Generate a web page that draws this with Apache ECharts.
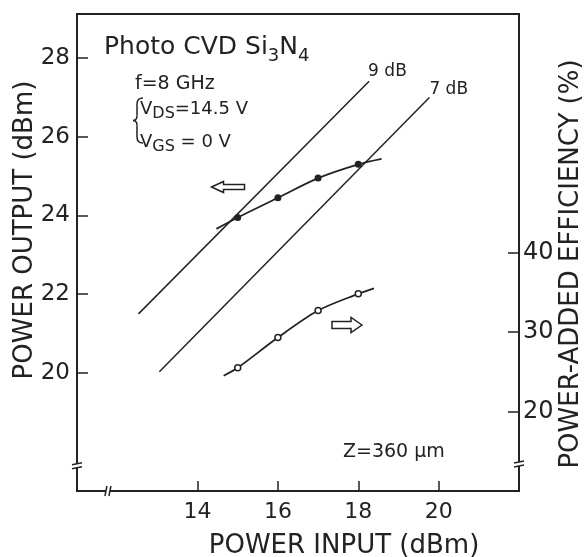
<!DOCTYPE html>
<html>
<head>
<meta charset="utf-8">
<script src="https://cdn.jsdelivr.net/npm/echarts@6/dist/echarts.min.js"></script>
<style>
  html, body { margin: 0; padding: 0; background: #fff; }
  #chart { width: 584px; height: 557px; }
</style>
</head>
<body>
<div id="chart"></div>
<script>
// measured points (power input, dBm)
const inputX = [15, 16, 17, 18]
const outputDbm = [23.95, 24.45, 24.95, 25.3]
const efficiency = [25.5, 29.3, 32.7, 34.8]
// where the hand drawn curves start / stop (no marker)
const outputEnds = [[14.47, 23.66], [18.58, 25.44]]
const effEnds = [[14.65, 24.5], [18.39, 35.5]]
// constant gain lines
const gain9 = [[12.53, 21.5], [18.27, 27.41]]
const gain7 = [[13.05, 20.03], [19.77, 27.0]]
// tick labels
const xTicks = [14, 16, 18, 20]
const yTicks = [20, 22, 24, 26, 28]
const effTicks = [20, 30, 40]

const ink = '#222'
const font = '"DejaVu Sans", "Liberation Sans", sans-serif'

function curve(ends, vals) {
  return [{ value: ends[0], symbol: 'none' }]
    .concat(inputX.map((x, i) => [x, vals[i]]))
    .concat([{ value: ends[1], symbol: 'none' }])
}

const chart = echarts.init(document.getElementById('chart'))
chart.setOption({
  animation: false,
  backgroundColor: '#fff',
  grid: {
    left: 77, right: 65, top: 14, bottom: 66,
    show: true, borderColor: ink, borderWidth: 2
  },
  xAxis: {
    type: 'value', min: 11, max: 22,
    axisLine: { show: false },
    splitLine: { show: false },
    axisTick: { inside: true, length: 10, customValues: xTicks, lineStyle: { color: ink, width: 1.5 } },
    axisLabel: { customValues: xTicks, margin: 10, fontSize: 22, color: ink, fontFamily: font }
  },
  yAxis: [
    {
      type: 'value', min: 17, max: 29.12,
      axisLine: { show: false },
      splitLine: { show: false },
      axisTick: { inside: true, length: 11, customValues: yTicks, lineStyle: { color: ink, width: 1.5 } },
      axisLabel: { customValues: yTicks, margin: 7, fontSize: 23, color: ink, fontFamily: font }
    },
    {
      type: 'value', min: 10, max: 70, position: 'right',
      axisLine: { show: false },
      splitLine: { show: false },
      axisTick: { inside: true, length: 11, customValues: effTicks, lineStyle: { color: ink, width: 1.5 } },
      axisLabel: { customValues: effTicks, margin: 4, fontSize: 24, color: ink, fontFamily: font }
    }
  ],
  series: [
    {
      name: '9 dB', type: 'line', data: gain9, showSymbol: false,
      lineStyle: { color: ink, width: 1.5 },
      endLabel: { show: true, formatter: '9 dB', offset: [-9, -10], fontSize: 17, color: ink, fontFamily: font }
    },
    {
      name: '7 dB', type: 'line', data: gain7, showSymbol: false,
      lineStyle: { color: ink, width: 1.5 },
      endLabel: { show: true, formatter: '7 dB', offset: [-8, -8], fontSize: 17, color: ink, fontFamily: font }
    },
    {
      name: 'Pout', type: 'line', smooth: 0.3,
      data: curve(outputEnds, outputDbm),
      symbol: 'circle', symbolSize: 7,
      lineStyle: { color: ink, width: 1.8 },
      itemStyle: { color: ink }
    },
    {
      name: 'PAE', type: 'line', smooth: 0.3, yAxisIndex: 1,
      data: curve(effEnds, efficiency),
      symbol: 'circle', symbolSize: 6,
      lineStyle: { color: ink, width: 1.8 },
      itemStyle: { color: '#fff', borderColor: ink, borderWidth: 1.5 }
    }
  ]
})

const thin = { stroke: ink, lineWidth: 1.5, fill: null }

// axis break marks
function vBreak(p) {
  const x = p[0], y = p[1]
  return [
    { type: 'rect', shape: { x: x - 3, y: y - 2, width: 6, height: 4 }, style: { fill: '#fff' }, z: 10 },
    { type: 'line', shape: { x1: x - 5, y1: y - 1, x2: x + 5, y2: y - 3 }, style: thin, z: 11 },
    { type: 'line', shape: { x1: x - 5, y1: y + 3, x2: x + 5, y2: y + 1 }, style: thin, z: 11 }
  ]
}
function hBreak(p) {
  const x = p[0], y = p[1]
  return [
    { type: 'rect', shape: { x: x - 2, y: y - 3, width: 4, height: 6 }, style: { fill: '#fff' }, z: 10 },
    { type: 'line', shape: { x1: x - 3, y1: y + 5, x2: x - 1, y2: y - 5 }, style: thin, z: 11 },
    { type: 'line', shape: { x1: x + 1, y1: y + 5, x2: x + 3, y2: y - 5 }, style: thin, z: 11 }
  ]
}
const leftBrk = chart.convertToPixel({ xAxisIndex: 0, yAxisIndex: 0 }, [11, 17.64])
const rightBrk = chart.convertToPixel({ xAxisIndex: 0, yAxisIndex: 1 }, [22, 13.4])
const bottomBrk = chart.convertToPixel({ xAxisIndex: 0, yAxisIndex: 0 }, [11.77, 17])

function txt(text, x, y, size, extra) {
  return {
    type: 'text', x: x, y: y, z: 20,
    style: Object.assign({ text: text, fill: ink, font: size + 'px ' + font, align: 'left', verticalAlign: 'middle' }, extra || {})
  }
}
function arrow(cx, cy, w, h, body, head, dir) {
  // hollow block arrow, dir -1 points left, 1 points right
  const hw = w / 2
  const pts = [[-hw, 0], [-hw + head, -h / 2], [-hw + head, -body / 2], [hw, -body / 2], [hw, body / 2], [-hw + head, body / 2], [-hw + head, h / 2]]
  return {
    type: 'polygon', z: 20,
    shape: { points: pts.map(p => [cx + p[0] * -dir, cy + p[1]]) },
    style: { fill: '#fff', stroke: ink, lineWidth: 1.5 }
  }
}
function brace(x, top, bottom) {
  const mid = (top + bottom) / 2
  const q = (x1, y1, cx, cy, x2, y2) => ({ type: 'bezierCurve', z: 20, shape: { x1: x1, y1: y1, cpx1: cx, cpy1: cy, x2: x2, y2: y2 }, style: thin })
  return [
    q(x + 6, top, x, top, x, top + 6),
    { type: 'line', z: 20, shape: { x1: x, y1: top + 6, x2: x, y2: mid - 5 }, style: thin },
    q(x, mid - 5, x, mid, x - 4, mid),
    q(x - 4, mid, x, mid, x, mid + 5),
    { type: 'line', z: 20, shape: { x1: x, y1: mid + 5, x2: x, y2: bottom - 6 }, style: thin },
    q(x, bottom - 6, x, bottom, x + 6, bottom)
  ]
}

const richMain = { fontSize: 25, lineHeight: 36, fontFamily: font, fill: ink }
const richSub = { fontSize: 18, lineHeight: 16, fontFamily: font, verticalAlign: 'bottom', fill: ink }
const vMain = { fontSize: 18, lineHeight: 26, fontFamily: font, fill: ink }
const vSub = { fontSize: 16, lineHeight: 14, fontFamily: font, verticalAlign: 'bottom', fill: ink }

const leftTitle = txt('POWER OUTPUT (dBm)', 25, 230, 26, { align: 'center' })
leftTitle.rotation = Math.PI / 2
const rightTitle = txt('POWER-ADDED EFFICIENCY (%)', 571, 264, 26, { align: 'center' })
rightTitle.rotation = Math.PI / 2

chart.setOption({
  graphic: [
    txt('{m|Photo CVD Si}{s|3}{m|N}{s|4}', 104, 47, 25, { rich: { m: richMain, s: richSub } }),
    txt('f=8 GHz', 135, 84, 19),
    txt('{m|V}{s|DS}{m|=14.5 V}', 140, 109, 18, { rich: { m: vMain, s: vSub } }),
    txt('{m|V}{s|GS}{m| = 0 V}', 140, 142, 18, { rich: { m: vMain, s: vSub } }),
    txt('Z=360 μm', 343, 452, 19),
    arrow(228, 187, 33, 11, 5, 12, -1),
    arrow(347, 325, 30, 15, 7, 11, 1),
    leftTitle,
    rightTitle,
    txt('POWER INPUT (dBm)', 344, 546, 26, { align: 'center' })
  ].concat(brace(137, 98, 143), vBreak(leftBrk), vBreak(rightBrk), hBreak(bottomBrk))
})

window.onresize = function() {
  chart.resize()
}
</script>
</body>
</html>
